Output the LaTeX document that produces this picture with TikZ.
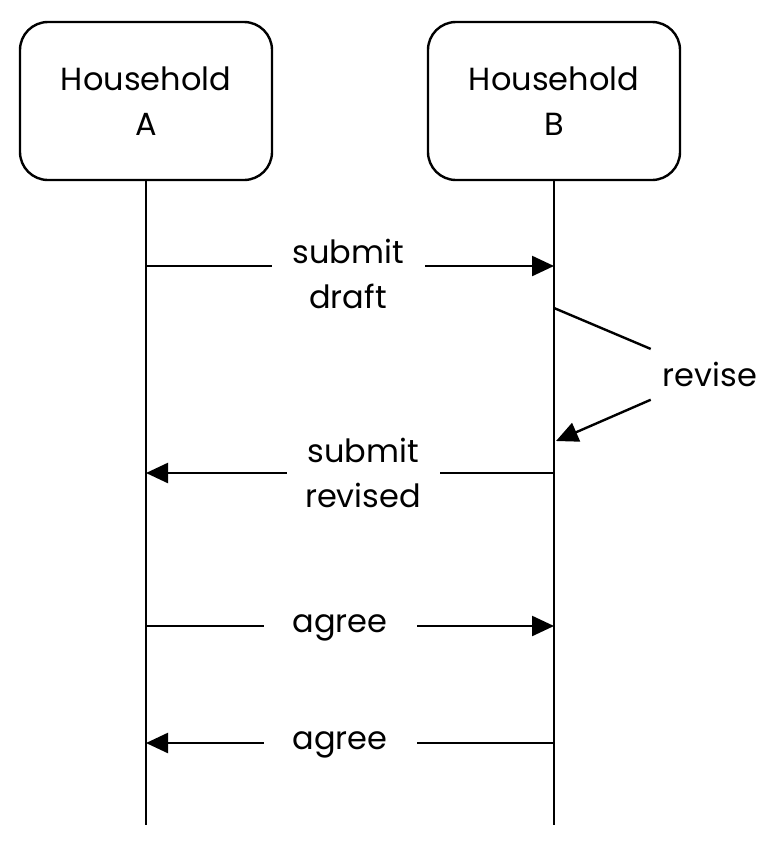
\documentclass[tikz,border=0pt]{standalone}
\usepackage{fontspec}
\setmainfont{Poppins}
\usetikzlibrary{arrows.meta}
\begin{document}
\begin{tikzpicture}[x=1pt,y=-1pt,
  actor/.style={draw,line width=2.4pt,rounded corners=28pt,minimum width=252pt,minimum height=158pt,align=center,font=\fontsize{32}{45}\selectfont},
  life/.style={line width=2.4pt},
  msg/.style={line width=2.4pt,-{Triangle[length=22pt,width=20pt]}},
  plain/.style={line width=2.4pt},
  lbl/.style={fill=white,align=center,inner xsep=0pt,inner ysep=2pt,minimum width=153pt,font=\fontsize{32}{45}\selectfont}]
\useasboundingbox (0,0) rectangle (778,846);
\node[actor] (A) at (146,101) {\raisebox{-4pt}{Household}\\\raisebox{-4pt}{A}};
\node[actor] (B) at (554,101) {\raisebox{-4pt}{Household}\\\raisebox{-4pt}{B}};
\coordinate (Aend) at (146,825);
\coordinate (Bend) at (554,825);
\draw[life] (A.south) -- (Aend);
\draw[life] (B.south) -- (Bend);
% submit draft
\coordinate (a1) at (146,266); \coordinate (b1) at (554,266);
\draw[msg] (a1) -- (b1);
\node[lbl] (l1) at (348,274) {submit\\draft};
% revise
\coordinate (r1) at (554,308); \coordinate (r2) at (556,441);
\node[font=\fontsize{32}{45}\selectfont,inner xsep=12pt,minimum height=64pt] (rv) at (710,374) {revise};
\draw[plain] (r1) -- (rv);
\draw[msg] (rv) -- (r2);
% submit revised
\coordinate (a2) at (146,473); \coordinate (b2) at (554,473);
\draw[msg] (b2) -- (a2);
\node[lbl] (l2) at (363,473) {submit\\revised};
% agree 1
\coordinate (a3) at (146,626); \coordinate (b3) at (554,626);
\draw[msg] (a3) -- (b3);
\node[lbl] (l3) at (340,628) {agree};
% agree 2
\coordinate (a4) at (146,743); \coordinate (b4) at (554,743);
\draw[msg] (b4) -- (a4);
\node[lbl] (l4) at (340,745) {agree};
\end{tikzpicture}
\end{document}
